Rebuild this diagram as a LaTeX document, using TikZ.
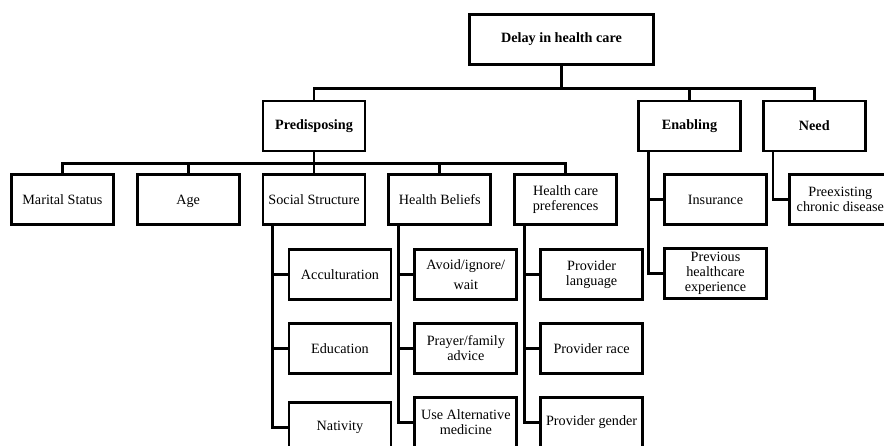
\documentclass[tikz,border=0pt]{standalone}
\usepackage{fontspec}
\setmainfont{Liberation Serif}
\usetikzlibrary{positioning}

\begin{document}
\begin{tikzpicture}[
x=1pt, y=1pt,
node distance = 21pt,
box/.style={rectangle, draw, line width=2.8pt, minimum width=102pt, minimum height=50pt, inner sep=1pt, align=center, font=\fontsize{14.2}{15}\selectfont},
head/.style={box, font=\fontsize{14.2}{15}\selectfont\bfseries},
link/.style={draw, line width=2.8pt}]
\useasboundingbox (0,0) rectangle (884,-446);

% factors
\node [head, minimum width=184pt] (root) at (561.5,-39.5) {Delay in health care};
\node [head] (pred) at (314,-126) {Predisposing};
\node [head] (enab) at (689.5,-126) {Enabling};
\node [head] (need) [right=20pt of enab] {Need};

\node [box] (soc) [below=of pred] {Social Structure};
\node [box, text depth=0pt] (age) [left=of soc] {Age};
\node [box] (mar) [left=of age] {Marital Status};
\node [box] (bel) [right=of soc] {Health Beliefs};
\node [box] (pref) [right=of bel] {Health care\\preferences};

% sub columns
\node [box] (acc) [below=22pt of soc.south west, anchor=north west, xshift=26pt] {Acculturation};
\node [box] (edu) [below=of acc] {Education};
\node [box] (nat) [below=26pt of edu] {Nativity};
\node [box] (avo) [below=22pt of bel.south west, anchor=north west, xshift=26pt] {Avoid/ignore/\\[5pt]wait};
\node [box] (pray) [below=of avo] {Prayer/family\\advice};
\node [box] (alt) [below=of pray] {Use Alternative\\medicine};
\node [box] (lang) [below=22pt of pref.south west, anchor=north west, xshift=26pt] {Provider\\language};
\node [box] (race) [below=of lang] {Provider race};
\node [box] (gend) [below=of race] {Provider gender};

\node [box] (ins) [below=of enab.south west, anchor=north west, xshift=26pt] {Insurance};
\node [box] (prev) [below=of ins] {Previous\\healthcare\\experience};
\node [box] (pre) [below=of need.south west, anchor=north west, xshift=26pt] {Preexisting\\chronic disease};

% links
\path (pred.north) ++(0,11) coordinate (top);
\path [link] (pred.north) -- (top) -| (need.north);
\path [link] (enab.north) -- (enab.north |- top);
\path [link] (root.south) -- (root.south |- top);

\path (pred.south) ++(0,-11) coordinate (mid);
\path [link] (mar.north) |- (mid) -| (pref.north);
\path [link] (pred.south) -- (soc.north);
\path [link] (age.north) -- (age.north |- mid);
\path [link] (bel.north) -- (bel.north |- mid);

\foreach \p/\c in {soc/acc,soc/edu,soc/nat,bel/avo,bel/pray,bel/alt,pref/lang,pref/race,pref/gend,enab/ins,enab/prev,need/pre}
  \path [link] ([xshift=11pt]\p.south west) |- (\c.west);
\end{tikzpicture}
\end{document}
